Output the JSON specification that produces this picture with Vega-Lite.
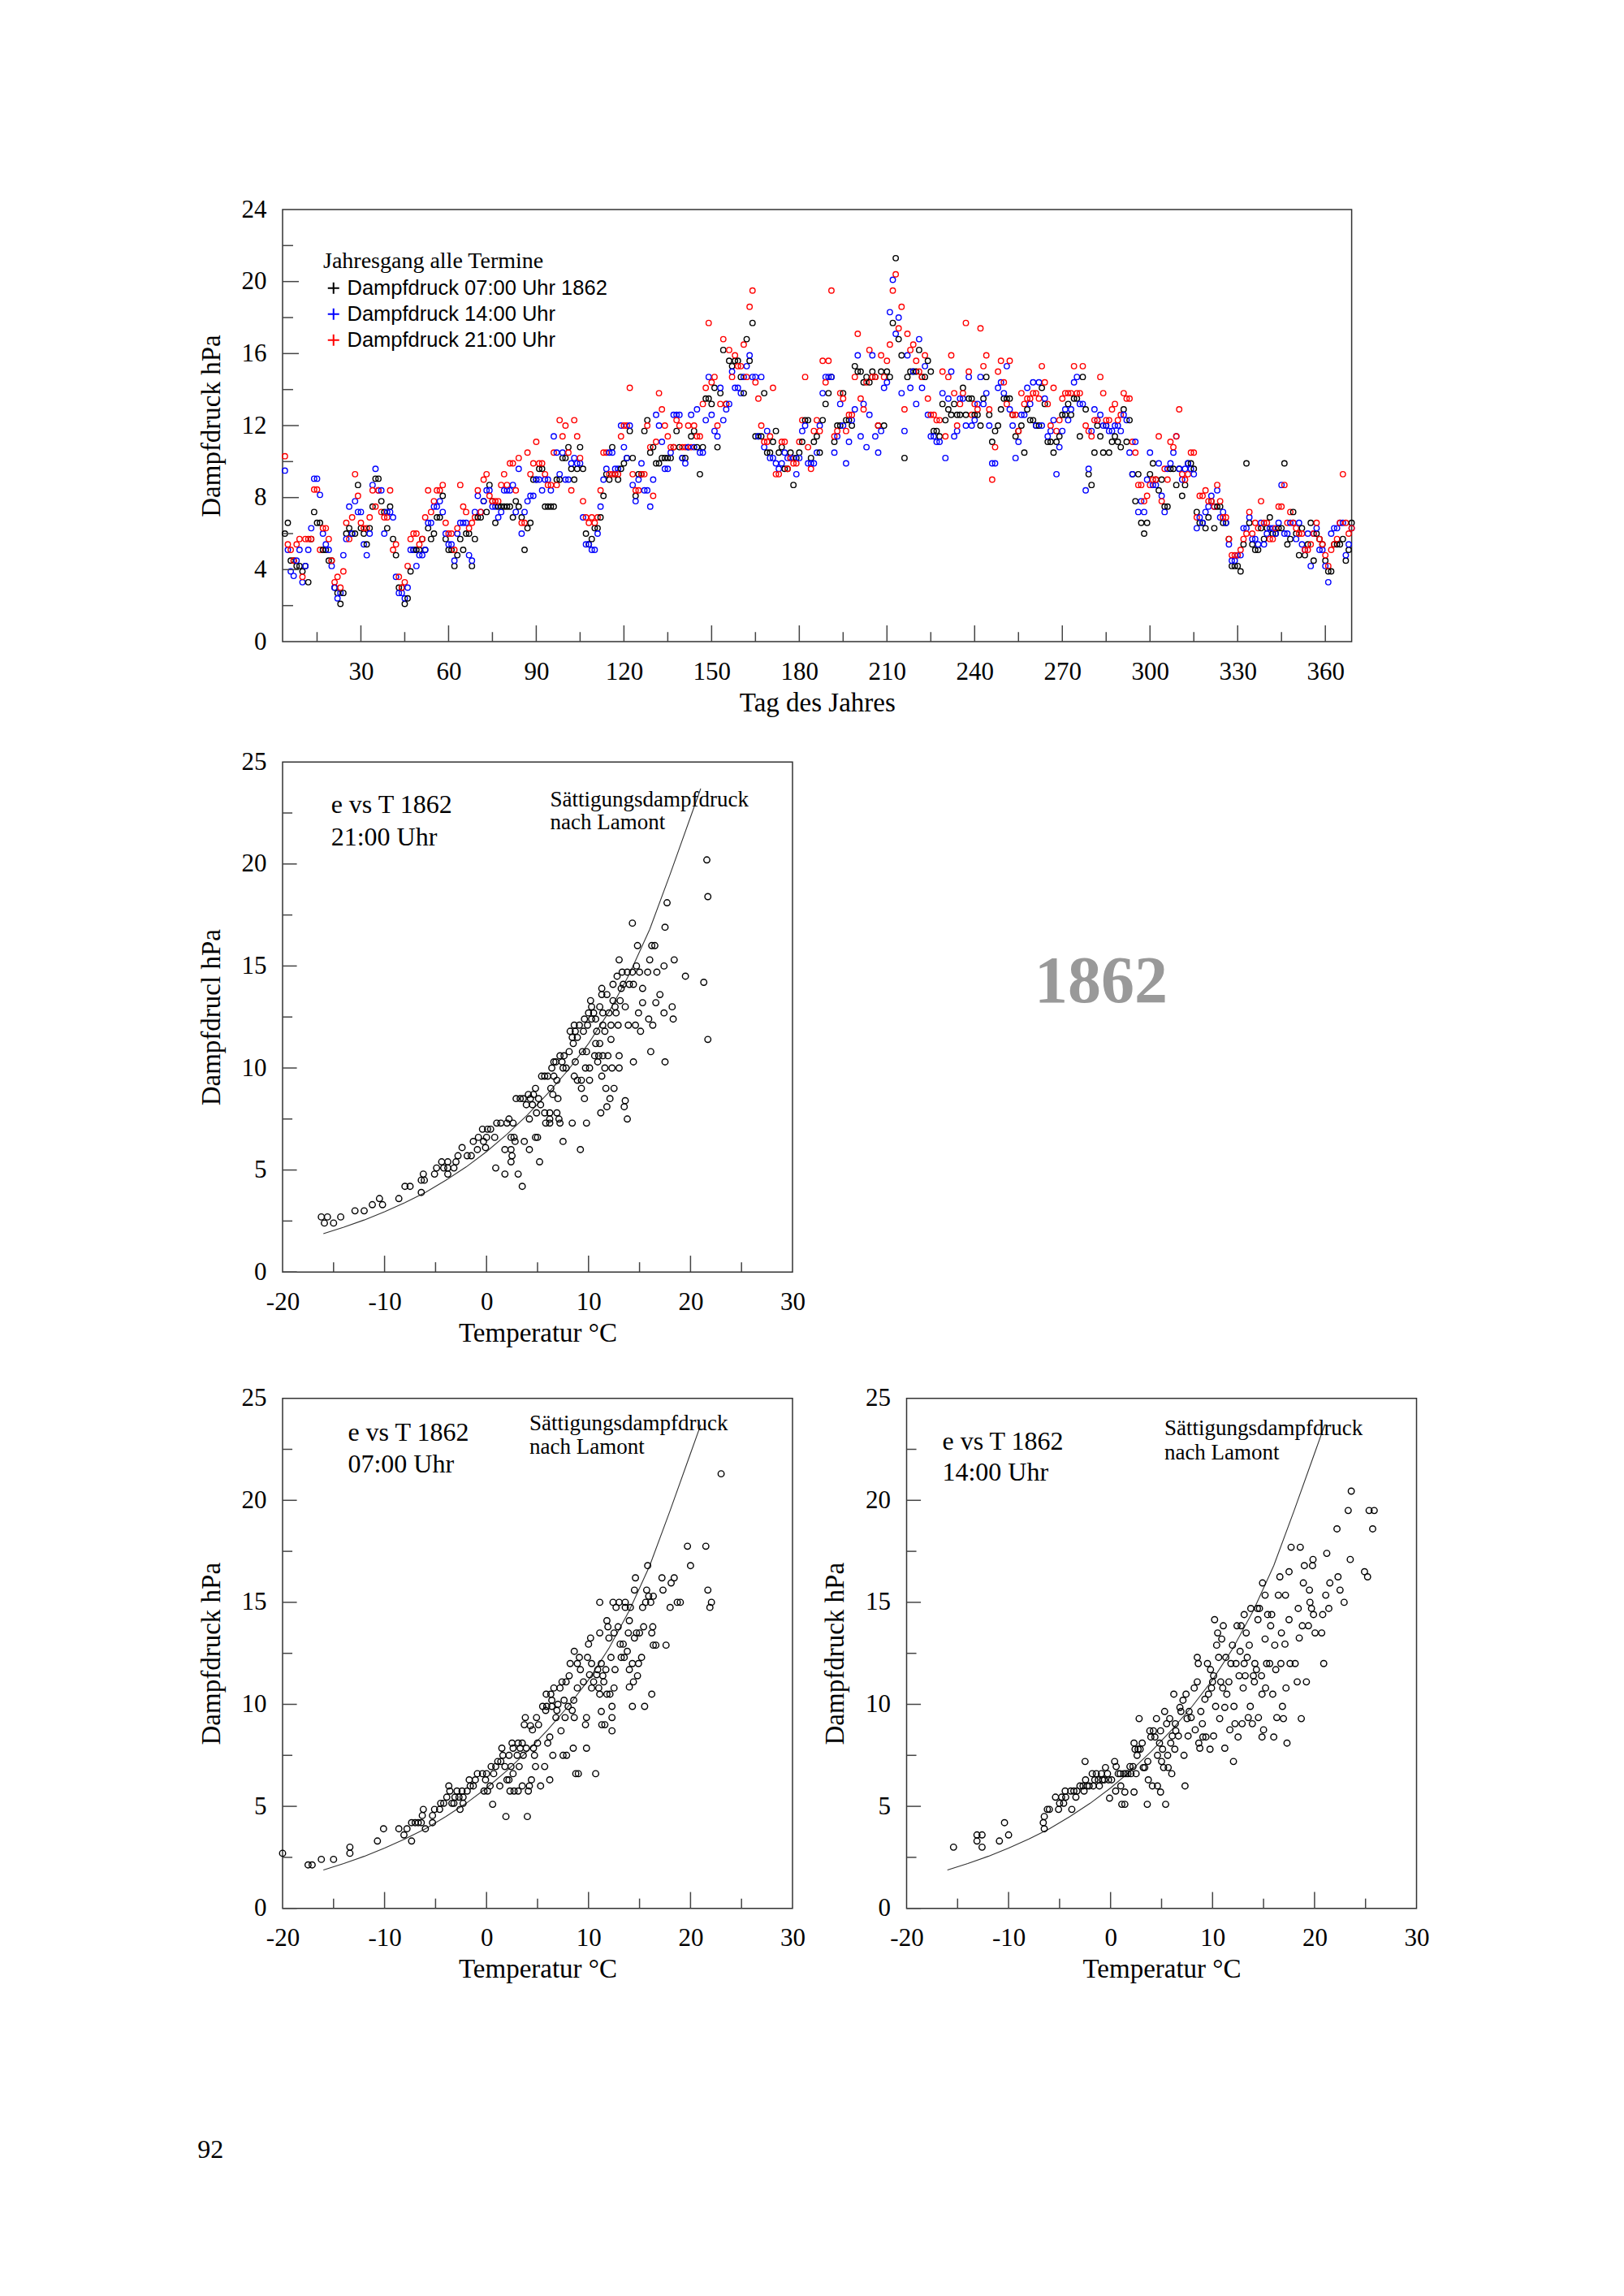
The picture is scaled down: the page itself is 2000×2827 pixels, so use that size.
{
  "$schema": "https://vega.github.io/schema/vega-lite/v6.json",
  "background": "white",
  "padding": {"left": 243, "top": 241, "right": 40, "bottom": 40},
  "config": {
    "view": {"stroke": "#333333", "strokeWidth": 1.5},
    "axis": {"ticks": false, "domain": false, "grid": false, "labelFont": "Liberation Serif", "labelFontSize": 31, "labelColor": "#000000", "labelFlush": false, "labelOverlap": false, "titleFont": "Liberation Serif", "titleFontSize": 33, "titleFontWeight": "normal", "titleColor": "#000000"},
    "axisX": {"labelPadding": 22, "titlePadding": 7},
    "axisY": {"labelPadding": 20, "titlePadding": 20},
    "text": {"font": "Liberation Serif", "color": "#000000"}
  },
  "title": {"text": "92", "orient": "bottom", "anchor": "start", "font": "Liberation Serif", "fontSize": 32, "fontWeight": "normal", "color": "#000000", "offset": 190},
  "datasets": {
    "ts": [
      {"d":4,"k":6.0,"b":9.5,"r":10.3},{"d":5,"k":6.6,"b":5.1,"r":5.4},{"d":6,"k":4.5,"b":3.9,"r":5.1},{"d":7,"k":4.5,"b":3.65,"r":4.5},{"d":8,"k":4.2,"b":4.5,"r":5.4},{"d":9,"k":4.2,"b":5.1,"r":5.7},{"d":10,"k":3.9,"b":3.3,"r":3.6},{"d":11,"k":4.2,"b":4.2,"r":5.7},{"d":12,"k":3.3,"b":5.1,"r":5.7},{"d":13,"k":5.7,"b":6.3,"r":5.7},
      {"d":14,"k":7.2,"b":9.05,"r":8.45},{"d":15,"k":6.6,"b":9.05,"r":8.45},{"d":16,"k":6.6,"b":8.15,"r":5.1},{"d":17,"k":5.1,"b":6.0,"r":6.3},{"d":18,"k":5.1,"b":5.4,"r":6.3},{"d":19,"k":4.5,"b":5.1,"r":5.7},{"d":20,"k":4.5,"b":4.2,"r":4.5},{"d":21,"k":3.0,"b":3.0,"r":3.3},{"d":22,"k":2.7,"b":2.4,"r":3.6},{"d":23,"k":2.1,"b":2.7,"r":3.0},
      {"d":24,"k":2.7,"b":4.8,"r":3.9},{"d":25,"k":6.0,"b":5.7,"r":6.6},{"d":26,"k":6.3,"b":7.5,"r":5.7},{"d":27,"k":6.0,"b":6.0,"r":6.9},{"d":28,"k":6.0,"b":7.8,"r":9.3},{"d":29,"k":8.7,"b":7.2,"r":8.1},{"d":30,"k":6.3,"b":7.2,"r":6.6},{"d":31,"k":6.0,"b":5.4,"r":6.3},{"d":32,"k":5.4,"b":4.8,"r":6.3},{"d":33,"k":6.3,"b":6.0,"r":6.9},
      {"d":34,"k":7.5,"b":8.7,"r":8.4},{"d":35,"k":9.05,"b":9.6,"r":7.5},{"d":36,"k":9.05,"b":8.4,"r":8.4},{"d":37,"k":7.8,"b":8.4,"r":7.2},{"d":38,"k":7.2,"b":6.0,"r":6.9},{"d":39,"k":6.3,"b":7.2,"r":6.9},{"d":40,"k":7.5,"b":7.2,"r":8.4},{"d":41,"k":5.7,"b":6.9,"r":5.1},{"d":42,"k":4.8,"b":3.6,"r":5.4},{"d":43,"k":3.0,"b":2.7,"r":3.6},
      {"d":44,"k":3.0,"b":2.7,"r":3.0},{"d":45,"k":2.1,"b":2.4,"r":3.3},{"d":46,"k":2.4,"b":3.0,"r":4.2},{"d":47,"k":3.9,"b":5.1,"r":5.7},{"d":48,"k":5.1,"b":5.1,"r":6.0},{"d":49,"k":5.1,"b":4.2,"r":6.0},{"d":50,"k":5.1,"b":4.8,"r":5.4},{"d":51,"k":5.7,"b":4.8,"r":5.7},{"d":52,"k":5.1,"b":5.1,"r":6.9},{"d":53,"k":6.3,"b":6.6,"r":8.4},
      {"d":54,"k":5.7,"b":6.6,"r":7.2},{"d":55,"k":6.0,"b":7.5,"r":7.8},{"d":56,"k":6.9,"b":7.5,"r":8.4},{"d":57,"k":6.9,"b":7.8,"r":8.4},{"d":58,"k":8.1,"b":7.2,"r":8.7},{"d":59,"k":5.7,"b":6.0,"r":6.6},{"d":60,"k":5.1,"b":5.4,"r":6.0},{"d":61,"k":5.1,"b":5.4,"r":6.0},{"d":62,"k":4.2,"b":4.5,"r":5.1},{"d":63,"k":4.8,"b":6.0,"r":6.3},
      {"d":64,"k":5.7,"b":6.6,"r":8.7},{"d":65,"k":5.1,"b":6.6,"r":7.5},{"d":66,"k":6.0,"b":6.6,"r":7.2},{"d":67,"k":6.0,"b":4.8,"r":6.3},{"d":68,"k":4.2,"b":4.5,"r":6.6},{"d":69,"k":5.7,"b":7.2,"r":6.9},{"d":70,"k":6.9,"b":8.1,"r":8.4},{"d":71,"k":6.9,"b":7.2,"r":7.2},{"d":72,"k":7.8,"b":7.8,"r":9.0},{"d":73,"k":7.2,"b":8.4,"r":9.3},
      {"d":74,"k":8.7,"b":8.4,"r":8.1},{"d":75,"k":7.8,"b":7.5,"r":7.8},{"d":76,"k":6.6,"b":7.5,"r":7.8},{"d":77,"k":7.5,"b":6.9,"r":7.8},{"d":78,"k":7.5,"b":7.2,"r":8.7},{"d":79,"k":7.5,"b":8.4,"r":9.3},{"d":80,"k":7.5,"b":8.4,"r":8.7},{"d":81,"k":7.5,"b":8.4,"r":9.9},{"d":82,"k":6.9,"b":8.7,"r":9.9},{"d":83,"k":7.8,"b":7.2,"r":8.4},
      {"d":84,"k":7.5,"b":9.6,"r":10.2},{"d":85,"k":6.9,"b":6.0,"r":6.6},{"d":86,"k":5.1,"b":7.2,"r":6.6},{"d":87,"k":6.3,"b":7.8,"r":10.5},{"d":88,"k":6.6,"b":8.1,"r":9.3},{"d":89,"k":9.0,"b":8.1,"r":9.9},{"d":90,"k":9.0,"b":9.0,"r":11.1},{"d":91,"k":9.6,"b":9.0,"r":9.9},{"d":92,"k":9.6,"b":8.4,"r":9.9},{"d":93,"k":7.5,"b":9.0,"r":9.3},
      {"d":94,"k":7.5,"b":9.0,"r":8.7},{"d":95,"k":7.5,"b":8.4,"r":8.7},{"d":96,"k":7.5,"b":11.4,"r":10.5},{"d":97,"k":9.0,"b":10.5,"r":8.7},{"d":98,"k":9.0,"b":9.3,"r":12.3},{"d":99,"k":10.2,"b":10.5,"r":11.4},{"d":100,"k":10.2,"b":9.0,"r":12.0},{"d":101,"k":10.8,"b":9.0,"r":10.5},{"d":102,"k":9.6,"b":9.9,"r":8.4},{"d":103,"k":9.0,"b":10.2,"r":12.3},
      {"d":104,"k":9.6,"b":9.9,"r":11.4},{"d":105,"k":10.8,"b":9.9,"r":10.2},{"d":106,"k":9.6,"b":6.9,"r":7.8},{"d":107,"k":6.0,"b":5.4,"r":6.9},{"d":108,"k":5.4,"b":5.4,"r":6.6},{"d":109,"k":5.7,"b":5.1,"r":6.9},{"d":110,"k":6.3,"b":5.1,"r":6.6},{"d":111,"k":6.3,"b":6.0,"r":6.9},{"d":112,"k":6.9,"b":7.5,"r":8.4},{"d":113,"k":8.1,"b":9.0,"r":10.5},
      {"d":114,"k":9.3,"b":9.6,"r":10.5},{"d":115,"k":9.0,"b":10.5,"r":9.3},{"d":116,"k":10.8,"b":10.5,"r":9.3},{"d":117,"k":9.3,"b":9.6,"r":9.3},{"d":118,"k":9.0,"b":9.6,"r":9.3},{"d":119,"k":9.6,"b":12.0,"r":11.4},{"d":120,"k":9.9,"b":10.8,"r":12.0},{"d":121,"k":10.2,"b":10.2,"r":12.0},{"d":122,"k":11.7,"b":12.0,"r":14.1},{"d":123,"k":10.2,"b":8.7,"r":9.3},
      {"d":124,"k":8.1,"b":7.8,"r":8.4},{"d":125,"k":9.3,"b":9.0,"r":8.4},{"d":126,"k":9.3,"b":9.9,"r":9.3},{"d":127,"k":11.7,"b":8.4,"r":9.3},{"d":128,"k":12.3,"b":8.4,"r":12.0},{"d":129,"k":10.5,"b":7.5,"r":10.8},{"d":130,"k":10.8,"b":9.0,"r":8.1},{"d":131,"k":9.9,"b":12.6,"r":11.1},{"d":132,"k":9.9,"b":12.0,"r":13.8},{"d":133,"k":10.2,"b":11.1,"r":12.9},
      {"d":134,"k":10.2,"b":9.6,"r":12.0},{"d":135,"k":10.2,"b":9.6,"r":11.4},{"d":136,"k":10.2,"b":10.5,"r":10.8},{"d":137,"k":10.8,"b":12.6,"r":10.8},{"d":138,"k":11.7,"b":12.6,"r":12.3},{"d":139,"k":10.8,"b":12.6,"r":12.0},{"d":140,"k":10.2,"b":10.2,"r":10.8},{"d":141,"k":10.2,"b":9.9,"r":10.8},{"d":142,"k":10.8,"b":10.8,"r":12.0},{"d":143,"k":11.4,"b":12.6,"r":10.8},
      {"d":144,"k":11.7,"b":10.8,"r":12.0},{"d":145,"k":10.8,"b":12.9,"r":11.4},{"d":146,"k":9.3,"b":10.5,"r":11.4},{"d":147,"k":10.8,"b":10.5,"r":13.2},{"d":148,"k":13.5,"b":12.3,"r":14.1},{"d":149,"k":13.5,"b":14.7,"r":17.7},{"d":150,"k":13.2,"b":12.6,"r":14.4},{"d":151,"k":14.1,"b":11.7,"r":14.7},{"d":152,"k":10.8,"b":11.4,"r":12.0},{"d":153,"k":13.8,"b":14.1,"r":13.2},
      {"d":154,"k":16.2,"b":12.3,"r":16.8},{"d":155,"k":13.2,"b":12.9,"r":13.2},{"d":156,"k":15.6,"b":13.2,"r":16.2},{"d":157,"k":15.3,"b":15.0,"r":14.7},{"d":158,"k":15.6,"b":14.1,"r":15.9},{"d":159,"k":15.6,"b":14.1,"r":15.3},{"d":160,"k":14.7,"b":13.8,"r":15.3},{"d":161,"k":13.8,"b":14.7,"r":16.5},{"d":162,"k":16.8,"b":15.3,"r":14.7},{"d":163,"k":15.6,"b":15.9,"r":18.6},
      {"d":164,"k":17.7,"b":14.7,"r":19.5},{"d":165,"k":11.4,"b":14.7,"r":14.4},{"d":166,"k":11.4,"b":11.4,"r":13.5},{"d":167,"k":11.4,"b":14.7,"r":12.0},{"d":168,"k":13.8,"b":10.8,"r":11.1},{"d":169,"k":10.5,"b":11.7,"r":11.1},{"d":170,"k":10.5,"b":10.2,"r":11.4},{"d":171,"k":11.1,"b":10.2,"r":14.1},{"d":172,"k":11.7,"b":9.9,"r":9.3},{"d":173,"k":10.5,"b":9.6,"r":9.3},
      {"d":174,"k":10.8,"b":9.9,"r":11.1},{"d":175,"k":9.6,"b":10.5,"r":11.1},{"d":176,"k":9.6,"b":10.2,"r":9.6},{"d":177,"k":10.5,"b":10.2,"r":10.2},{"d":178,"k":8.7,"b":10.2,"r":9.9},{"d":179,"k":10.2,"b":9.3,"r":9.9},{"d":180,"k":10.5,"b":10.2,"r":11.1},{"d":181,"k":11.1,"b":11.7,"r":12.3},{"d":182,"k":12.3,"b":12.0,"r":14.7},{"d":183,"k":12.3,"b":9.9,"r":10.8},
      {"d":184,"k":10.2,"b":9.9,"r":9.6},{"d":185,"k":11.1,"b":9.9,"r":11.7},{"d":186,"k":11.4,"b":10.5,"r":12.3},{"d":187,"k":10.5,"b":12.0,"r":11.7},{"d":188,"k":12.3,"b":13.8,"r":15.6},{"d":189,"k":13.2,"b":14.7,"r":14.4},{"d":190,"k":13.8,"b":14.7,"r":15.6},{"d":191,"k":14.7,"b":14.7,"r":19.5},{"d":192,"k":11.1,"b":10.5,"r":11.4},{"d":193,"k":12.0,"b":11.4,"r":11.7},
      {"d":194,"k":12.0,"b":13.2,"r":13.8},{"d":195,"k":13.8,"b":12.0,"r":13.5},{"d":196,"k":12.3,"b":9.9,"r":11.7},{"d":197,"k":12.3,"b":11.1,"r":12.6},{"d":198,"k":12.0,"b":12.3,"r":12.6},{"d":199,"k":15.3,"b":12.9,"r":14.7},{"d":200,"k":15.0,"b":15.9,"r":17.1},{"d":201,"k":15.0,"b":11.4,"r":13.5},{"d":202,"k":14.4,"b":13.2,"r":12.9},{"d":203,"k":14.7,"b":10.8,"r":14.4},
      {"d":204,"k":14.4,"b":12.6,"r":16.2},{"d":205,"k":15.0,"b":15.9,"r":14.7},{"d":206,"k":14.7,"b":11.4,"r":14.7},{"d":207,"k":12.0,"b":10.5,"r":12.0},{"d":208,"k":15.0,"b":11.7,"r":15.9},{"d":209,"k":12.0,"b":14.1,"r":14.7},{"d":210,"k":15.0,"b":14.4,"r":15.6},{"d":211,"k":14.7,"b":18.3,"r":16.5},{"d":212,"k":17.7,"b":20.1,"r":19.5},{"d":213,"k":21.3,"b":17.1,"r":20.4},
      {"d":214,"k":16.8,"b":18.0,"r":17.4},{"d":215,"k":15.9,"b":13.8,"r":18.6},{"d":216,"k":10.2,"b":11.7,"r":12.9},{"d":217,"k":14.7,"b":15.9,"r":17.1},{"d":218,"k":15.0,"b":14.1,"r":16.2},{"d":219,"k":15.0,"b":15.0,"r":16.5},{"d":220,"k":15.0,"b":13.2,"r":15.6},{"d":221,"k":16.2,"b":16.8,"r":15.0},{"d":222,"k":14.7,"b":14.1,"r":14.7},{"d":223,"k":14.7,"b":15.3,"r":15.9},
      {"d":224,"k":15.6,"b":12.6,"r":13.5},{"d":225,"k":15.0,"b":11.4,"r":12.6},{"d":226,"k":11.7,"b":11.4,"r":12.6},{"d":227,"k":11.7,"b":11.1,"r":12.3},{"d":228,"k":11.4,"b":11.1,"r":12.3},{"d":229,"k":13.2,"b":13.8,"r":15.0},{"d":230,"k":12.3,"b":10.2,"r":11.4},{"d":231,"k":12.9,"b":13.5,"r":14.7},{"d":232,"k":12.6,"b":15.0,"r":15.9},{"d":233,"k":13.2,"b":11.4,"r":13.8},
      {"d":234,"k":12.6,"b":11.7,"r":12.0},{"d":235,"k":12.6,"b":13.5,"r":13.2},{"d":236,"k":14.1,"b":13.5,"r":13.8},{"d":237,"k":12.6,"b":12.0,"r":17.7},{"d":238,"k":13.5,"b":14.7,"r":15.0},{"d":239,"k":13.5,"b":12.0,"r":12.6},{"d":240,"k":12.6,"b":12.3,"r":13.2},{"d":241,"k":12.6,"b":13.2,"r":12.9},{"d":242,"k":12.0,"b":14.7,"r":17.4},{"d":243,"k":13.5,"b":13.2,"r":15.3},
      {"d":244,"k":14.7,"b":13.8,"r":15.9},{"d":245,"k":12.6,"b":12.0,"r":12.9},{"d":246,"k":11.1,"b":9.9,"r":9.0},{"d":247,"k":11.7,"b":9.9,"r":10.8},{"d":248,"k":12.0,"b":14.1,"r":15.0},{"d":249,"k":12.9,"b":14.4,"r":15.6},{"d":250,"k":13.5,"b":13.8,"r":14.4},{"d":251,"k":13.5,"b":15.3,"r":13.2},{"d":252,"k":13.5,"b":12.9,"r":15.6},{"d":253,"k":12.6,"b":12.0,"r":12.6},
      {"d":254,"k":11.4,"b":10.2,"r":12.6},{"d":255,"k":11.7,"b":11.1,"r":11.7},{"d":256,"k":12.0,"b":12.6,"r":13.8},{"d":257,"k":10.5,"b":12.6,"r":13.2},{"d":258,"k":12.9,"b":14.1,"r":13.5},{"d":259,"k":12.3,"b":13.2,"r":13.5},{"d":260,"k":12.3,"b":14.4,"r":13.8},{"d":261,"k":12.0,"b":12.0,"r":13.8},{"d":262,"k":12.0,"b":14.4,"r":13.5},{"d":263,"k":14.1,"b":12.0,"r":15.3},
      {"d":264,"k":13.2,"b":13.5,"r":14.4},{"d":265,"k":11.1,"b":11.4,"r":13.2},{"d":266,"k":11.1,"b":11.7,"r":12.0},{"d":267,"k":10.5,"b":12.3,"r":14.1},{"d":268,"k":11.1,"b":9.3,"r":11.7},{"d":269,"k":11.4,"b":10.8,"r":12.3},{"d":270,"k":12.6,"b":11.7,"r":13.5},{"d":271,"k":12.6,"b":12.9,"r":13.8},{"d":272,"k":13.2,"b":12.3,"r":13.8},{"d":273,"k":12.6,"b":12.9,"r":13.8},
      {"d":274,"k":13.5,"b":14.4,"r":15.3},{"d":275,"k":13.5,"b":14.7,"r":13.8},{"d":276,"k":11.4,"b":13.2,"r":13.8},{"d":277,"k":14.7,"b":13.2,"r":15.3},{"d":278,"k":12.9,"b":8.4,"r":12.0},{"d":279,"k":9.3,"b":9.6,"r":11.7},{"d":280,"k":8.7,"b":11.7,"r":11.4},{"d":281,"k":10.5,"b":12.9,"r":12.3},{"d":282,"k":12.0,"b":12.3,"r":12.3},{"d":283,"k":11.4,"b":12.6,"r":14.7},
      {"d":284,"k":10.5,"b":12.0,"r":13.8},{"d":285,"k":12.0,"b":12.0,"r":12.3},{"d":286,"k":10.5,"b":11.7,"r":12.3},{"d":287,"k":11.1,"b":11.7,"r":12.9},{"d":288,"k":11.4,"b":12.0,"r":13.2},{"d":289,"k":11.1,"b":12.0,"r":12.3},{"d":290,"k":10.8,"b":11.7,"r":12.6},{"d":291,"k":12.9,"b":12.6,"r":13.8},{"d":292,"k":11.1,"b":12.3,"r":13.5},{"d":293,"k":12.3,"b":10.5,"r":13.5},
      {"d":294,"k":9.3,"b":9.3,"r":11.1},{"d":295,"k":7.8,"b":11.1,"r":10.5},{"d":296,"k":9.3,"b":7.2,"r":8.7},{"d":297,"k":6.6,"b":7.8,"r":8.7},{"d":298,"k":6.0,"b":7.2,"r":7.8},{"d":299,"k":6.6,"b":9.0,"r":8.1},{"d":300,"k":9.3,"b":10.5,"r":8.7},{"d":301,"k":9.9,"b":8.7,"r":9.0},{"d":302,"k":9.0,"b":8.7,"r":9.0},{"d":303,"k":8.4,"b":9.9,"r":11.4},
      {"d":304,"k":9.0,"b":8.1,"r":7.8},{"d":305,"k":7.5,"b":7.2,"r":9.6},{"d":306,"k":7.5,"b":9.6,"r":9.0},{"d":307,"k":9.6,"b":9.9,"r":11.1},{"d":308,"k":9.6,"b":10.5,"r":10.8},{"d":309,"k":8.7,"b":11.4,"r":11.4},{"d":310,"k":9.6,"b":9.6,"r":12.9},{"d":311,"k":8.1,"b":9.0,"r":9.3},{"d":312,"k":8.7,"b":9.6,"r":9.0},{"d":313,"k":9.9,"b":9.9,"r":9.3},
      {"d":314,"k":9.9,"b":9.6,"r":10.5},{"d":315,"k":9.6,"b":9.3,"r":10.5},{"d":316,"k":7.2,"b":6.3,"r":6.9},{"d":317,"k":6.6,"b":6.9,"r":8.1},{"d":318,"k":6.6,"b":6.6,"r":8.1},{"d":319,"k":6.3,"b":7.2,"r":8.4},{"d":320,"k":6.9,"b":7.5,"r":7.8},{"d":321,"k":7.8,"b":8.1,"r":7.8},{"d":322,"k":6.3,"b":7.5,"r":7.5},{"d":323,"k":7.5,"b":8.4,"r":8.7},
      {"d":324,"k":7.5,"b":6.9,"r":7.8},{"d":325,"k":6.6,"b":7.2,"r":6.9},{"d":326,"k":6.6,"b":6.6,"r":6.9},{"d":327,"k":5.7,"b":5.4,"r":5.7},{"d":328,"k":4.2,"b":4.5,"r":4.8},{"d":329,"k":4.2,"b":4.5,"r":4.8},{"d":330,"k":4.2,"b":4.8,"r":4.8},{"d":331,"k":3.9,"b":4.8,"r":5.1},{"d":332,"k":5.4,"b":6.3,"r":5.7},{"d":333,"k":9.9,"b":6.3,"r":6.0},
      {"d":334,"k":6.6,"b":6.9,"r":7.2},{"d":335,"k":5.4,"b":5.7,"r":6.0},{"d":336,"k":5.1,"b":5.7,"r":6.6},{"d":337,"k":5.1,"b":5.4,"r":6.3},{"d":338,"k":6.3,"b":6.6,"r":7.8},{"d":339,"k":5.7,"b":5.4,"r":6.6},{"d":340,"k":6.3,"b":6.0,"r":6.6},{"d":341,"k":6.9,"b":6.3,"r":5.7},{"d":342,"k":6.0,"b":6.3,"r":5.7},{"d":343,"k":6.0,"b":6.0,"r":6.3},
      {"d":344,"k":6.3,"b":6.6,"r":7.5},{"d":345,"k":6.3,"b":8.7,"r":7.5},{"d":346,"k":9.9,"b":6.0,"r":8.7},{"d":347,"k":5.4,"b":6.0,"r":6.6},{"d":348,"k":5.7,"b":6.6,"r":7.2},{"d":349,"k":7.2,"b":6.6,"r":6.6},{"d":350,"k":6.0,"b":5.7,"r":6.3},{"d":351,"k":4.8,"b":6.6,"r":6.0},{"d":352,"k":6.3,"b":5.4,"r":6.0},{"d":353,"k":4.8,"b":5.1,"r":5.1},
      {"d":354,"k":5.4,"b":6.0,"r":5.1},{"d":355,"k":6.6,"b":4.2,"r":5.4},{"d":356,"k":4.5,"b":6.0,"r":6.0},{"d":357,"k":6.0,"b":6.3,"r":6.6},{"d":358,"k":5.7,"b":5.1,"r":5.7},{"d":359,"k":5.4,"b":5.1,"r":5.4},{"d":360,"k":4.5,"b":4.2,"r":4.8},{"d":361,"k":3.9,"b":3.3,"r":4.2},{"d":362,"k":3.9,"b":6.0,"r":5.1},{"d":363,"k":5.4,"b":6.3,"r":5.4},
      {"d":364,"k":5.4,"b":6.3,"r":5.7},{"d":365,"k":5.4,"b":6.6,"r":6.6},{"d":366,"k":5.7,"b":6.6,"r":9.3},{"d":367,"k":4.5,"b":4.8,"r":6.6},{"d":368,"k":5.1,"b":5.4,"r":6.0},{"d":369,"k":6.6,"b":6.3,"r":6.3}
    ],
    "lam": [
      {"t":-16,"e":1.88},{"t":-14,"e":2.2},{"t":-12,"e":2.55},{"t":-10,"e":2.95},{"t":-8,"e":3.4},{"t":-6,"e":3.9},{"t":-4,"e":4.5},{"t":-2,"e":5.15},{"t":0,"e":5.9},{"t":2,"e":6.75},
      {"t":4,"e":7.7},{"t":6,"e":8.75},{"t":8,"e":9.9},{"t":10,"e":11.2},{"t":12,"e":12.75},{"t":14,"e":14.6},{"t":16,"e":16.8},{"t":18,"e":19.5},{"t":20,"e":22.3},{"t":21,"e":23.7}
    ],
    "e21": [
      {"t":-16.2,"e":2.7},{"t":-15.9,"e":2.4},{"t":-15.6,"e":2.7},{"t":-15,"e":2.4},{"t":-14.3,"e":2.7},{"t":-12.9,"e":3.0},{"t":-12,"e":3.0},{"t":-11.2,"e":3.3},{"t":-10.5,"e":3.6},{"t":-10.2,"e":3.3},
      {"t":-8.6,"e":3.6},{"t":-8.0,"e":4.2},{"t":-7.5,"e":4.2},{"t":-6.4,"e":3.9},{"t":-6.4,"e":4.5},{"t":-6.1,"e":4.5},{"t":-6.2,"e":4.8},{"t":-5.1,"e":4.8},{"t":-4.9,"e":5.1},{"t":-4.4,"e":5.4},
      {"t":-4.2,"e":5.1},{"t":-3.8,"e":5.1},{"t":-3.8,"e":4.8},{"t":-3.8,"e":5.4},{"t":-3.2,"e":5.1},{"t":-3.0,"e":5.4},{"t":-2.8,"e":5.7},{"t":-2.4,"e":6.1},{"t":-1.9,"e":5.7},{"t":-1.5,"e":5.7},
      {"t":-1.3,"e":6.4},{"t":-0.9,"e":6.0},{"t":-0.8,"e":6.6},{"t":-0.4,"e":7.0},{"t":-0.3,"e":6.4},{"t":-0.1,"e":6.1},{"t":0,"e":6.6},{"t":0.1,"e":7.0},{"t":0.4,"e":7.0},{"t":0.8,"e":6.6},
      {"t":0.9,"e":5.1},{"t":1.0,"e":7.3},{"t":1.4,"e":7.3},{"t":1.8,"e":4.8},{"t":1.8,"e":6.0},{"t":2.0,"e":7.3},{"t":2.2,"e":7.5},{"t":2.4,"e":6.0},{"t":2.4,"e":6.6},{"t":2.4,"e":5.4},
      {"t":2.5,"e":5.7},{"t":2.6,"e":7.3},{"t":2.7,"e":6.6},{"t":2.8,"e":6.4},{"t":2.9,"e":8.5},{"t":3.1,"e":4.8},{"t":3.3,"e":8.5},{"t":3.5,"e":4.2},{"t":3.6,"e":8.5},{"t":3.7,"e":6.4},
      {"t":3.9,"e":8.2},{"t":4.1,"e":8.7},{"t":4.2,"e":7.5},{"t":4.2,"e":6.0},{"t":4.3,"e":8.5},{"t":4.5,"e":8.2},{"t":4.6,"e":8.7},{"t":4.8,"e":6.6},{"t":4.8,"e":9.0},{"t":5.0,"e":6.6},
      {"t":4.9,"e":7.8},{"t":5.1,"e":8.5},{"t":5.2,"e":5.4},{"t":5.3,"e":8.2},{"t":5.4,"e":9.6},{"t":5.7,"e":9.6},{"t":5.7,"e":7.8},{"t":5.8,"e":7.3},{"t":6.0,"e":9.6},{"t":6.2,"e":7.8},
      {"t":6.2,"e":7.5},{"t":6.2,"e":7.3},{"t":6.3,"e":9.0},{"t":6.4,"e":10.0},{"t":6.5,"e":8.7},{"t":6.6,"e":9.6},{"t":6.6,"e":10.3},{"t":6.8,"e":10.3},{"t":6.9,"e":7.8},{"t":6.9,"e":9.4},
      {"t":7.0,"e":8.5},{"t":7.1,"e":7.5},{"t":7.2,"e":10.6},{"t":7.2,"e":7.3},{"t":7.4,"e":10.3},{"t":7.5,"e":10.0},{"t":7.5,"e":6.4},{"t":7.6,"e":10.6},{"t":7.8,"e":10.0},{"t":8.1,"e":10.8},
      {"t":8.2,"e":11.8},{"t":8.4,"e":11.5},{"t":8.4,"e":7.3},{"t":8.5,"e":11.2},{"t":8.6,"e":9.6},{"t":8.6,"e":12.1},{"t":8.7,"e":11.8},{"t":8.7,"e":10.3},{"t":8.9,"e":11.5},{"t":8.9,"e":9.4},
      {"t":9.1,"e":12.1},{"t":9.2,"e":6.0},{"t":9.3,"e":9.4},{"t":9.3,"e":9.0},{"t":9.4,"e":10.8},{"t":9.5,"e":11.8},{"t":9.6,"e":12.4},{"t":9.6,"e":8.5},{"t":9.7,"e":10.0},{"t":9.8,"e":10.8},
      {"t":9.8,"e":7.3},{"t":9.9,"e":12.1},{"t":10.0,"e":12.7},{"t":10.1,"e":10.0},{"t":10.1,"e":9.4},{"t":10.2,"e":13.3},{"t":10.3,"e":12.4},{"t":10.3,"e":13.0},{"t":10.5,"e":12.7},{"t":10.6,"e":10.6},
      {"t":10.7,"e":12.4},{"t":10.7,"e":11.2},{"t":10.8,"e":11.8},{"t":10.9,"e":10.3},{"t":11.0,"e":10.6},{"t":11.1,"e":11.2},{"t":11.1,"e":13.0},{"t":11.2,"e":7.8},{"t":11.3,"e":13.9},{"t":11.3,"e":9.6},
      {"t":11.3,"e":13.6},{"t":11.4,"e":12.7},{"t":11.4,"e":12.1},{"t":11.4,"e":10.6},{"t":11.6,"e":11.8},{"t":11.6,"e":10.0},{"t":11.7,"e":9.0},{"t":11.8,"e":13.6},{"t":11.8,"e":8.1},{"t":11.9,"e":10.6},
      {"t":12.0,"e":12.7},{"t":12.1,"e":8.5},{"t":12.2,"e":12.1},{"t":12.2,"e":11.4},{"t":12.3,"e":10.0},{"t":12.4,"e":13.3},{"t":12.4,"e":14.1},{"t":12.5,"e":9.0},{"t":12.6,"e":13.0},{"t":12.7,"e":12.7},
      {"t":12.8,"e":14.5},{"t":12.9,"e":12.1},{"t":13.0,"e":15.3},{"t":13.0,"e":10.6},{"t":13.0,"e":10.0},{"t":13.1,"e":13.3},{"t":13.2,"e":13.9},{"t":13.3,"e":14.7},{"t":13.4,"e":14.1},{"t":13.5,"e":8.1},
      {"t":13.6,"e":13.0},{"t":13.6,"e":8.4},{"t":13.8,"e":7.5},{"t":13.8,"e":14.7},{"t":13.9,"e":12.1},{"t":14.0,"e":14.1},{"t":14.3,"e":14.7},{"t":14.3,"e":17.1},{"t":14.4,"e":14.1},{"t":14.4,"e":10.3},
      {"t":14.6,"e":12.1},{"t":14.7,"e":15.0},{"t":14.8,"e":16.0},{"t":14.9,"e":12.7},{"t":15.0,"e":14.7},{"t":15.1,"e":11.8},{"t":15.3,"e":13.9},{"t":15.3,"e":13.2},{"t":15.8,"e":14.7},{"t":15.9,"e":12.4},
      {"t":16.0,"e":15.3},{"t":16.1,"e":10.8},{"t":16.2,"e":16.0},{"t":16.3,"e":12.1},{"t":16.5,"e":16.0},{"t":16.6,"e":13.2},{"t":16.7,"e":14.7},{"t":17.0,"e":13.6},{"t":17.4,"e":12.7},{"t":17.4,"e":15.0},
      {"t":17.5,"e":10.3},{"t":17.5,"e":16.9},{"t":17.7,"e":18.1},{"t":18.2,"e":13.0},{"t":18.3,"e":12.4},{"t":18.4,"e":15.3},{"t":19.5,"e":14.5},{"t":21.3,"e":14.2},{"t":21.6,"e":20.2},{"t":21.7,"e":18.4},
      {"t":21.7,"e":11.4}
    ],
    "e07": [
      {"t":-20,"e":2.7},{"t":-17.5,"e":2.13},{"t":-17.1,"e":2.13},{"t":-16.2,"e":2.4},{"t":-15,"e":2.4},{"t":-13.4,"e":3.0},{"t":-13.4,"e":2.7},{"t":-10.7,"e":3.3},{"t":-10.1,"e":3.9},{"t":-8.6,"e":3.9},
      {"t":-8.1,"e":3.6},{"t":-7.8,"e":3.9},{"t":-7.35,"e":3.3},{"t":-7.35,"e":4.2},{"t":-7.0,"e":4.2},{"t":-6.7,"e":4.2},{"t":-6.4,"e":4.2},{"t":-6.3,"e":4.55},{"t":-6.2,"e":4.85},{"t":-6.0,"e":3.9},
      {"t":-5.3,"e":4.2},{"t":-5.3,"e":4.55},{"t":-5.1,"e":4.85},{"t":-4.6,"e":4.85},{"t":-4.5,"e":5.15},{"t":-4.2,"e":5.15},{"t":-3.9,"e":5.45},{"t":-3.7,"e":6.0},{"t":-3.6,"e":5.75},{"t":-3.4,"e":5.15},
      {"t":-3.2,"e":5.15},{"t":-3.1,"e":5.45},{"t":-2.9,"e":5.75},{"t":-2.7,"e":5.45},{"t":-2.6,"e":4.85},{"t":-2.4,"e":5.75},{"t":-2.3,"e":5.15},{"t":-2.3,"e":5.45},{"t":-1.9,"e":5.75},{"t":-1.7,"e":6.3},
      {"t":-1.6,"e":6.0},{"t":-1.3,"e":6.0},{"t":-1.1,"e":6.3},{"t":-0.9,"e":6.6},{"t":-0.4,"e":6.6},{"t":-0.25,"e":5.75},{"t":-0.1,"e":6.3},{"t":0,"e":6.6},{"t":0.1,"e":5.75},{"t":0.35,"e":6.0},
      {"t":0.45,"e":6.95},{"t":0.6,"e":5.1},{"t":0.7,"e":6.6},{"t":0.9,"e":6.95},{"t":1.1,"e":7.2},{"t":1.3,"e":6.0},{"t":1.4,"e":7.2},{"t":1.5,"e":7.85},{"t":1.6,"e":7.5},{"t":1.8,"e":6.95},
      {"t":1.9,"e":4.5},{"t":2.0,"e":6.3},{"t":2.2,"e":7.5},{"t":2.2,"e":6.3},{"t":2.3,"e":5.75},{"t":2.4,"e":6.95},{"t":2.5,"e":8.1},{"t":2.6,"e":7.85},{"t":2.6,"e":6.6},{"t":2.7,"e":5.75},
      {"t":3.0,"e":7.5},{"t":3.1,"e":8.1},{"t":3.1,"e":5.75},{"t":3.2,"e":6.95},{"t":3.3,"e":7.85},{"t":3.5,"e":8.1},{"t":3.5,"e":6.0},{"t":3.6,"e":7.5},{"t":3.7,"e":9.0},{"t":3.8,"e":9.35},
      {"t":3.9,"e":7.85},{"t":4.0,"e":4.5},{"t":4.1,"e":5.75},{"t":4.2,"e":6.0},{"t":4.3,"e":8.95},{"t":4.4,"e":6.3},{"t":4.5,"e":8.75},{"t":4.6,"e":7.85},{"t":4.7,"e":7.5},{"t":4.8,"e":6.95},
      {"t":4.9,"e":9.35},{"t":5.0,"e":8.1},{"t":5.1,"e":9.0},{"t":5.3,"e":6.0},{"t":5.5,"e":9.9},{"t":5.7,"e":6.95},{"t":5.8,"e":9.7},{"t":5.85,"e":10.5},{"t":5.9,"e":9.9},{"t":6.0,"e":8.1},
      {"t":6.2,"e":8.4},{"t":6.2,"e":6.3},{"t":6.3,"e":10.5},{"t":6.4,"e":10.2},{"t":6.4,"e":9.9},{"t":6.5,"e":7.5},{"t":6.6,"e":10.8},{"t":6.8,"e":9.35},{"t":6.9,"e":9.7},{"t":7.0,"e":10.0},
      {"t":7.2,"e":10.8},{"t":7.3,"e":8.7},{"t":7.4,"e":11.1},{"t":7.5,"e":7.5},{"t":7.6,"e":10.2},{"t":7.7,"e":9.35},{"t":7.8,"e":11.1},{"t":7.85,"e":7.5},{"t":8.0,"e":9.9},{"t":8.1,"e":11.4},
      {"t":8.2,"e":12.0},{"t":8.4,"e":9.7},{"t":8.5,"e":7.85},{"t":8.55,"e":10.2},{"t":8.6,"e":9.35},{"t":8.6,"e":12.6},{"t":8.75,"e":6.6},{"t":8.9,"e":10.8},{"t":8.9,"e":12.0},{"t":9.0,"e":6.6},
      {"t":9.1,"e":12.3},{"t":9.2,"e":11.7},{"t":9.5,"e":11.1},{"t":9.7,"e":9.0},{"t":9.8,"e":9.35},{"t":9.8,"e":7.85},{"t":9.9,"e":12.3},{"t":10.0,"e":12.95},{"t":10.1,"e":11.45},{"t":10.2,"e":13.25},
      {"t":10.3,"e":12.0},{"t":10.3,"e":10.8},{"t":10.5,"e":11.1},{"t":10.7,"e":6.6},{"t":10.8,"e":11.45},{"t":10.9,"e":11.7},{"t":11.0,"e":10.8},{"t":11.1,"e":15.0},{"t":11.1,"e":13.5},{"t":11.1,"e":10.5},
      {"t":11.25,"e":9.65},{"t":11.25,"e":12.0},{"t":11.3,"e":9.0},{"t":11.4,"e":11.4},{"t":11.5,"e":11.1},{"t":11.6,"e":9.0},{"t":11.7,"e":11.7},{"t":11.8,"e":14.1},{"t":11.8,"e":10.5},{"t":11.9,"e":13.8},
      {"t":12.0,"e":13.25},{"t":12.1,"e":10.5},{"t":12.2,"e":12.3},{"t":12.3,"e":9.35},{"t":12.3,"e":9.9},{"t":12.3,"e":8.7},{"t":12.4,"e":15.0},{"t":12.5,"e":13.5},{"t":12.5,"e":10.8},{"t":12.6,"e":11.7},
      {"t":12.7,"e":14.75},{"t":12.9,"e":13.8},{"t":13.0,"e":15.0},{"t":13.1,"e":12.95},{"t":13.2,"e":12.3},{"t":13.4,"e":12.95},{"t":13.5,"e":12.3},{"t":13.6,"e":15.0},{"t":13.6,"e":14.75},{"t":13.8,"e":12.6},
      {"t":13.9,"e":13.5},{"t":14.0,"e":11.7},{"t":14.0,"e":10.85},{"t":14.0,"e":14.1},{"t":14.1,"e":14.75},{"t":14.3,"e":12.0},{"t":14.3,"e":9.9},{"t":14.4,"e":11.1},{"t":14.5,"e":15.6},{"t":14.5,"e":13.25},
      {"t":14.6,"e":16.2},{"t":14.7,"e":13.5},{"t":14.8,"e":11.4},{"t":14.9,"e":12.0},{"t":15.0,"e":13.5},{"t":15.2,"e":12.3},{"t":15.3,"e":14.75},{"t":15.4,"e":13.8},{"t":15.5,"e":9.9},{"t":15.6,"e":15.0},
      {"t":15.7,"e":15.6},{"t":15.8,"e":16.8},{"t":15.9,"e":15.3},{"t":16.1,"e":15.0},{"t":16.2,"e":10.5},{"t":16.2,"e":13.5},{"t":16.3,"e":13.8},{"t":16.35,"e":15.3},{"t":16.35,"e":12.9},{"t":16.6,"e":12.9},
      {"t":17.2,"e":16.2},{"t":17.3,"e":15.6},{"t":17.6,"e":12.9},{"t":18.0,"e":14.75},{"t":18.1,"e":15.95},{"t":18.4,"e":16.2},{"t":18.7,"e":15.0},{"t":19.0,"e":15.0},{"t":19.7,"e":17.75},{"t":20.0,"e":16.8},
      {"t":21.5,"e":17.75},{"t":21.7,"e":15.6},{"t":21.9,"e":14.75},{"t":22.05,"e":15.0},{"t":23.0,"e":21.3}
    ],
    "e14": [
      {"t":-15.4,"e":3.0},{"t":-13.1,"e":3.6},{"t":-13.1,"e":3.3},{"t":-12.6,"e":3.6},{"t":-12.6,"e":3.0},{"t":-10.9,"e":3.3},{"t":-10.4,"e":4.2},{"t":-10.0,"e":3.6},{"t":-6.6,"e":4.2},{"t":-6.5,"e":3.9},
      {"t":-6.5,"e":4.5},{"t":-6.2,"e":4.85},{"t":-6.0,"e":4.85},{"t":-5.4,"e":5.45},{"t":-5.1,"e":4.85},{"t":-5.0,"e":5.15},{"t":-4.8,"e":5.45},{"t":-4.6,"e":5.15},{"t":-4.45,"e":5.75},{"t":-4.4,"e":5.45},
      {"t":-3.9,"e":5.75},{"t":-3.8,"e":4.85},{"t":-3.6,"e":5.75},{"t":-3.4,"e":5.45},{"t":-3.3,"e":5.75},{"t":-3.0,"e":6.0},{"t":-2.7,"e":6.0},{"t":-2.6,"e":5.75},{"t":-2.5,"e":7.2},{"t":-2.45,"e":6.3},
      {"t":-2.3,"e":6.0},{"t":-2.1,"e":6.0},{"t":-1.8,"e":6.6},{"t":-1.7,"e":6.0},{"t":-1.55,"e":6.3},{"t":-1.4,"e":6.6},{"t":-1.2,"e":6.3},{"t":-1.1,"e":6.0},{"t":-0.9,"e":6.6},{"t":-0.8,"e":6.3},
      {"t":-0.6,"e":6.3},{"t":-0.5,"e":6.9},{"t":-0.3,"e":6.6},{"t":-0.2,"e":6.3},{"t":-0.1,"e":5.4},{"t":0.1,"e":6.3},{"t":0.4,"e":7.2},{"t":0.5,"e":5.75},{"t":0.55,"e":6.95},{"t":0.75,"e":6.6},
      {"t":0.95,"e":6.6},{"t":1.0,"e":6.0},{"t":1.1,"e":5.1},{"t":1.3,"e":6.6},{"t":1.4,"e":5.1},{"t":1.4,"e":5.7},{"t":1.5,"e":6.6},{"t":1.7,"e":6.6},{"t":1.9,"e":6.95},{"t":2.0,"e":6.6},
      {"t":2.2,"e":6.95},{"t":2.3,"e":8.1},{"t":2.3,"e":5.7},{"t":2.4,"e":7.8},{"t":2.5,"e":6.6},{"t":2.6,"e":7.5},{"t":2.7,"e":7.8},{"t":2.8,"e":9.3},{"t":2.9,"e":7.8},{"t":3.1,"e":8.1},
      {"t":3.2,"e":6.9},{"t":3.35,"e":6.9},{"t":3.6,"e":5.1},{"t":3.65,"e":7.2},{"t":3.7,"e":6.3},{"t":3.85,"e":8.7},{"t":3.95,"e":8.4},{"t":4.1,"e":6.0},{"t":4.2,"e":8.7},{"t":4.35,"e":8.4},
      {"t":4.5,"e":9.3},{"t":4.6,"e":7.5},{"t":4.6,"e":6.0},{"t":4.8,"e":8.1},{"t":4.9,"e":5.7},{"t":4.9,"e":8.7},{"t":5.0,"e":7.2},{"t":5.1,"e":7.8},{"t":5.2,"e":6.9},{"t":5.3,"e":9.65},
      {"t":5.4,"e":5.1},{"t":5.5,"e":9.05},{"t":5.6,"e":7.5},{"t":5.65,"e":6.9},{"t":5.8,"e":9.3},{"t":5.9,"e":8.1},{"t":6.0,"e":6.6},{"t":6.05,"e":8.45},{"t":6.2,"e":10.5},{"t":6.3,"e":7.8},
      {"t":6.35,"e":9.05},{"t":6.4,"e":8.7},{"t":6.65,"e":8.45},{"t":6.8,"e":9.85},{"t":6.9,"e":9.65},{"t":7.1,"e":10.2},{"t":7.2,"e":7.5},{"t":7.3,"e":6.0},{"t":7.4,"e":10.5},{"t":7.5,"e":9.3},
      {"t":7.6,"e":8.45},{"t":7.7,"e":9.65},{"t":7.9,"e":9.35},{"t":8.2,"e":10.8},{"t":8.3,"e":8.75},{"t":8.5,"e":11.1},{"t":8.5,"e":12.3},{"t":8.6,"e":12.0},{"t":8.65,"e":8.1},{"t":8.75,"e":7.85},
      {"t":8.85,"e":9.65},{"t":9.0,"e":9.05},{"t":9.05,"e":8.4},{"t":9.25,"e":10.25},{"t":9.35,"e":8.4},{"t":9.5,"e":12.0},{"t":9.6,"e":10.5},{"t":9.75,"e":7.8},{"t":9.8,"e":11.7},{"t":9.9,"e":10.8},
      {"t":10.0,"e":11.1},{"t":10.1,"e":11.4},{"t":10.1,"e":8.45},{"t":10.2,"e":14.15},{"t":10.3,"e":9.9},{"t":10.4,"e":12.9},{"t":10.5,"e":13.5},{"t":10.6,"e":12.3},{"t":10.7,"e":9.3},{"t":10.8,"e":11.1},
      {"t":10.9,"e":13.2},{"t":11.0,"e":10.8},{"t":11.05,"e":13.85},{"t":11.2,"e":7.85},{"t":11.2,"e":9.85},{"t":11.3,"e":12.3},{"t":11.4,"e":10.5},{"t":11.6,"e":11.1},{"t":11.7,"e":8.75},{"t":11.8,"e":12.0},
      {"t":11.95,"e":12.9},{"t":12.05,"e":7.2},{"t":12.1,"e":9.9},{"t":12.2,"e":9.05},{"t":12.3,"e":12.0},{"t":12.4,"e":13.85},{"t":12.5,"e":8.4},{"t":12.6,"e":11.4},{"t":12.7,"e":12.6},{"t":12.8,"e":13.85},
      {"t":12.9,"e":9.05},{"t":13.0,"e":10.8},{"t":13.1,"e":14.4},{"t":13.1,"e":12.0},{"t":13.2,"e":11.4},{"t":13.3,"e":13.5},{"t":13.4,"e":12.3},{"t":13.5,"e":9.35},{"t":13.6,"e":12.9},{"t":13.7,"e":9.9},
      {"t":13.75,"e":14.7},{"t":13.9,"e":9.05},{"t":14.0,"e":11.4},{"t":14.1,"e":11.1},{"t":14.15,"e":12.0},{"t":14.3,"e":11.7},{"t":14.4,"e":14.7},{"t":14.45,"e":14.15},{"t":14.5,"e":9.35},{"t":14.6,"e":14.7},
      {"t":14.8,"e":11.4},{"t":14.85,"e":10.5},{"t":14.85,"e":8.4},{"t":14.9,"e":15.95},{"t":15.0,"e":8.75},{"t":15.15,"e":15.35},{"t":15.15,"e":13.2},{"t":15.2,"e":10.8},{"t":15.3,"e":12.0},{"t":15.4,"e":14.4},
      {"t":15.6,"e":12.0},{"t":15.7,"e":13.85},{"t":15.8,"e":14.4},{"t":15.9,"e":10.5},{"t":16.0,"e":8.4},{"t":16.1,"e":12.9},{"t":16.2,"e":11.7},{"t":16.3,"e":9.35},{"t":16.45,"e":15.35},{"t":16.6,"e":16.25},
      {"t":16.7,"e":12.0},{"t":16.75,"e":13.5},{"t":16.85,"e":9.9},{"t":16.95,"e":9.3},{"t":17.1,"e":12.95},{"t":17.15,"e":15.35},{"t":17.2,"e":10.8},{"t":17.3,"e":8.1},{"t":17.5,"e":16.5},{"t":17.5,"e":14.15},
      {"t":17.6,"e":12.0},{"t":17.7,"e":17.7},{"t":18.1,"e":12.0},{"t":18.3,"e":11.1},{"t":18.4,"e":14.7},{"t":18.5,"e":13.25},{"t":18.6,"e":17.7},{"t":18.7,"e":9.3},{"t":18.8,"e":13.85},{"t":18.9,"e":15.95},
      {"t":19.0,"e":16.8},{"t":19.2,"e":11.1},{"t":19.4,"e":13.85},{"t":19.5,"e":15.6},{"t":19.55,"e":15.0},{"t":19.7,"e":14.7},{"t":19.8,"e":16.8},{"t":19.85,"e":17.1},{"t":19.9,"e":14.4},{"t":20.05,"e":13.5},
      {"t":20.7,"e":13.5},{"t":20.8,"e":14.4},{"t":20.9,"e":12.0},{"t":21.1,"e":15.35},{"t":21.2,"e":17.4},{"t":21.4,"e":14.7},{"t":21.5,"e":15.95},{"t":22.2,"e":18.6},{"t":22.3,"e":16.25},{"t":22.5,"e":15.6},
      {"t":22.9,"e":15.0},{"t":23.5,"e":17.1},{"t":23.3,"e":19.5},{"t":23.6,"e":20.45},{"t":24.9,"e":16.5},{"t":25.2,"e":16.25},{"t":25.35,"e":19.5},{"t":25.85,"e":19.5},{"t":25.7,"e":18.6}
    ]
  },
  "spacing": 38.2,
  "vconcat": [
    {
      "width": 1316.6,
      "height": 532,
      "layer": [
        {
          "data": {"name": "ts"},
          "transform": [{"fold": ["k", "b", "r"], "as": ["s", "e"]}],
          "mark": {"type": "point", "shape": "circle", "filled": false, "size": 42, "strokeWidth": 1.4, "opacity": 1},
          "encoding": {
            "x": {"field": "d", "type": "quantitative", "scale": {"domain": [3.2, 369], "nice": false, "zero": false}, "axis": {"values": [30, 60, 90, 120, 150, 180, 210, 240, 270, 300, 330, 360], "title": "Tag des Jahres"}},
            "y": {"field": "e", "type": "quantitative", "scale": {"domain": [0, 24], "nice": false, "zero": false}, "axis": {"values": [0, 4, 8, 12, 16, 20, 24], "title": "Dampfdruck hPa"}},
            "color": {
              "field": "s", "type": "nominal", "sort": null,
              "scale": {"domain": ["k", "b", "r"], "range": ["#000000", "#0000ff", "#ff0000"]},
              "legend": {
                "title": "Jahresgang alle Termine", "orient": "top-left", "offset": 50, "padding": 0,
                "titleFont": "Liberation Serif", "titleFontSize": 28, "titleFontWeight": "normal", "titleColor": "#000000", "titlePadding": 6, "titleLimit": 0,
                "labelFont": "Liberation Sans", "labelFontSize": 25.5, "labelColor": "#000000", "labelOffset": 4, "labelLimit": 0,
                "symbolType": "M-1,0H1M0,-1V1", "symbolSize": 196, "symbolStrokeWidth": 2, "rowPadding": 5,
                "labelExpr": "datum.value == 'k' ? 'Dampfdruck 07:00 Uhr 1862' : datum.value == 'b' ? 'Dampfdruck 14:00 Uhr' : 'Dampfdruck 21:00 Uhr'"
              }
            }
          }
        },
        {
          "data": {"values": [{"v": 30}, {"v": 60}, {"v": 90}, {"v": 120}, {"v": 150}, {"v": 180}, {"v": 210}, {"v": 240}, {"v": 270}, {"v": 300}, {"v": 330}, {"v": 360}]},
          "mark": {"type": "rule", "color": "#444444", "strokeWidth": 1.5},
          "encoding": {
            "x": {"field": "v", "type": "quantitative", "scale": {"domain": [3.2, 369], "nice": false, "zero": false}, "axis": {"values": [30, 60, 90, 120, 150, 180, 210, 240, 270, 300, 330, 360], "title": "Tag des Jahres"}},
            "y": {"datum": 0, "type": "quantitative", "scale": {"domain": [0, 24], "nice": false, "zero": false}, "axis": {"values": [0, 4, 8, 12, 16, 20, 24], "title": "Dampfdruck hPa"}},
            "y2": {"datum": 0.9}
          }
        },
        {
          "data": {"values": [{"v": 15}, {"v": 45}, {"v": 75}, {"v": 105}, {"v": 135}, {"v": 165}, {"v": 195}, {"v": 225}, {"v": 255}, {"v": 285}, {"v": 315}, {"v": 345}]},
          "mark": {"type": "rule", "color": "#444444", "strokeWidth": 1.5},
          "encoding": {
            "x": {"field": "v", "type": "quantitative", "scale": {"domain": [3.2, 369], "nice": false, "zero": false}, "axis": {"values": [30, 60, 90, 120, 150, 180, 210, 240, 270, 300, 330, 360], "title": "Tag des Jahres"}},
            "y": {"datum": 0, "type": "quantitative", "scale": {"domain": [0, 24], "nice": false, "zero": false}, "axis": {"values": [0, 4, 8, 12, 16, 20, 24], "title": "Dampfdruck hPa"}},
            "y2": {"datum": 0.53}
          }
        },
        {
          "data": {"values": [{"v": 4}, {"v": 8}, {"v": 12}, {"v": 16}, {"v": 20}]},
          "mark": {"type": "rule", "color": "#444444", "strokeWidth": 1.5},
          "encoding": {
            "y": {"field": "v", "type": "quantitative", "scale": {"domain": [0, 24], "nice": false, "zero": false}, "axis": {"values": [0, 4, 8, 12, 16, 20, 24], "title": "Dampfdruck hPa"}},
            "x": {"datum": 3.2, "type": "quantitative", "scale": {"domain": [3.2, 369], "nice": false, "zero": false}, "axis": {"values": [30, 60, 90, 120, 150, 180, 210, 240, 270, 300, 330, 360], "title": "Tag des Jahres"}},
            "x2": {"datum": 8.75}
          }
        },
        {
          "data": {"values": [{"v": 2}, {"v": 6}, {"v": 10}, {"v": 14}, {"v": 18}, {"v": 22}]},
          "mark": {"type": "rule", "color": "#444444", "strokeWidth": 1.5},
          "encoding": {
            "y": {"field": "v", "type": "quantitative", "scale": {"domain": [0, 24], "nice": false, "zero": false}, "axis": {"values": [0, 4, 8, 12, 16, 20, 24], "title": "Dampfdruck hPa"}},
            "x": {"datum": 3.2, "type": "quantitative", "scale": {"domain": [3.2, 369], "nice": false, "zero": false}, "axis": {"values": [30, 60, 90, 120, 150, 180, 210, 240, 270, 300, 330, 360], "title": "Tag des Jahres"}},
            "x2": {"datum": 6.8}
          }
        }
      ]
    },
    {
      "spacing": 45.5,
      "vconcat": [
        {
          "spacing": 140.5,
          "bounds": "flush",
          "hconcat": [
            {
              "width": 628,
              "height": 628,
              "layer": [
                {"data": {"name": "lam"}, "mark": {"type": "line", "color": "#333333", "strokeWidth": 1.1},
                 "encoding": {"x": {"field": "t", "type": "quantitative", "scale": {"domain": [-20, 30], "nice": false, "zero": false}, "axis": {"values": [-20, -10, 0, 10, 20, 30], "labelExpr": "'' + datum.value", "title": "Temperatur °C"}},
                              "y": {"field": "e", "type": "quantitative", "scale": {"domain": [0, 25], "nice": false, "zero": false}, "axis": {"values": [0, 5, 10, 15, 20, 25], "title": "Dampfdrucl hPa"}}}},
                {"data": {"name": "e21"}, "mark": {"type": "point", "shape": "circle", "filled": false, "size": 56, "strokeWidth": 1.4, "color": "#000000", "opacity": 1},
                 "encoding": {"x": {"field": "t", "type": "quantitative", "scale": {"domain": [-20, 30], "nice": false, "zero": false}, "axis": {"values": [-20, -10, 0, 10, 20, 30], "labelExpr": "'' + datum.value", "title": "Temperatur °C"}},
                              "y": {"field": "e", "type": "quantitative", "scale": {"domain": [0, 25], "nice": false, "zero": false}, "axis": {"values": [0, 5, 10, 15, 20, 25], "title": "Dampfdrucl hPa"}}}},
                {"data": {"values": [{"v": -10}, {"v": 0}, {"v": 10}, {"v": 20}]}, "mark": {"type": "rule", "color": "#444444", "strokeWidth": 1.5},
                 "encoding": {"x": {"field": "v", "type": "quantitative", "scale": {"domain": [-20, 30], "nice": false, "zero": false}, "axis": {"values": [-20, -10, 0, 10, 20, 30], "labelExpr": "'' + datum.value", "title": "Temperatur °C"}},
                              "y": {"datum": 0, "type": "quantitative", "scale": {"domain": [0, 25], "nice": false, "zero": false}, "axis": {"values": [0, 5, 10, 15, 20, 25], "title": "Dampfdrucl hPa"}}, "y2": {"datum": 0.8}}},
                {"data": {"values": [{"v": -15}, {"v": -5}, {"v": 5}, {"v": 15}, {"v": 25}]}, "mark": {"type": "rule", "color": "#444444", "strokeWidth": 1.5},
                 "encoding": {"x": {"field": "v", "type": "quantitative", "scale": {"domain": [-20, 30], "nice": false, "zero": false}, "axis": {"values": [-20, -10, 0, 10, 20, 30], "labelExpr": "'' + datum.value", "title": "Temperatur °C"}},
                              "y": {"datum": 0, "type": "quantitative", "scale": {"domain": [0, 25], "nice": false, "zero": false}, "axis": {"values": [0, 5, 10, 15, 20, 25], "title": "Dampfdrucl hPa"}}, "y2": {"datum": 0.48}}},
                {"data": {"values": [{"v": 0}, {"v": 5}, {"v": 10}, {"v": 15}, {"v": 20}]}, "mark": {"type": "rule", "color": "#444444", "strokeWidth": 1.5},
                 "encoding": {"y": {"field": "v", "type": "quantitative", "scale": {"domain": [0, 25], "nice": false, "zero": false}, "axis": {"values": [0, 5, 10, 15, 20, 25], "title": "Dampfdrucl hPa"}},
                              "x": {"datum": -20, "type": "quantitative", "scale": {"domain": [-20, 30], "nice": false, "zero": false}, "axis": {"values": [-20, -10, 0, 10, 20, 30], "labelExpr": "'' + datum.value", "title": "Temperatur °C"}}, "x2": {"datum": -18.6}}},
                {"data": {"values": [{"v": 2.5}, {"v": 7.5}, {"v": 12.5}, {"v": 17.5}, {"v": 22.5}]}, "mark": {"type": "rule", "color": "#444444", "strokeWidth": 1.5},
                 "encoding": {"y": {"field": "v", "type": "quantitative", "scale": {"domain": [0, 25], "nice": false, "zero": false}, "axis": {"values": [0, 5, 10, 15, 20, 25], "title": "Dampfdrucl hPa"}},
                              "x": {"datum": -20, "type": "quantitative", "scale": {"domain": [-20, 30], "nice": false, "zero": false}, "axis": {"values": [-20, -10, 0, 10, 20, 30], "labelExpr": "'' + datum.value", "title": "Temperatur °C"}}, "x2": {"datum": -19.04}}},
                {"data": {"values": [{}]}, "mark": {"type": "text", "align": "left", "baseline": "alphabetic", "font": "Liberation Serif", "fontSize": 32, "lineHeight": 40, "color": "#000000"},
                 "encoding": {"x": {"datum": -15.25, "type": "quantitative", "scale": {"domain": [-20, 30], "nice": false, "zero": false}, "axis": {"values": [-20, -10, 0, 10, 20, 30], "labelExpr": "'' + datum.value", "title": "Temperatur °C"}},
                              "y": {"datum": 22.5, "type": "quantitative", "scale": {"domain": [0, 25], "nice": false, "zero": false}, "axis": {"values": [0, 5, 10, 15, 20, 25], "title": "Dampfdrucl hPa"}}, "text": {"value": ["e vs T 1862", "21:00 Uhr"]}}},
                {"data": {"values": [{}]}, "mark": {"type": "text", "align": "left", "baseline": "alphabetic", "font": "Liberation Serif", "fontSize": 27, "lineHeight": 28, "color": "#000000"},
                 "encoding": {"x": {"datum": 6.23, "type": "quantitative", "scale": {"domain": [-20, 30], "nice": false, "zero": false}, "axis": {"values": [-20, -10, 0, 10, 20, 30], "labelExpr": "'' + datum.value", "title": "Temperatur °C"}},
                              "y": {"datum": 22.8, "type": "quantitative", "scale": {"domain": [0, 25], "nice": false, "zero": false}, "axis": {"values": [0, 5, 10, 15, 20, 25], "title": "Dampfdrucl hPa"}}, "text": {"value": ["Sättigungsdampfdruck", "nach Lamont"]}}}
              ]
            },
            {
              "width": 479,
              "height": 542,
              "view": {"stroke": null},
              "data": {"values": [{"label": "1862"}]},
              "mark": {"type": "text", "align": "center", "baseline": "middle", "font": "Liberation Serif", "fontSize": 82, "fontWeight": "bold", "color": "#999999"},
              "encoding": {"text": {"field": "label", "type": "nominal"}}
            }
          ]
        },
        {
          "spacing": 140.5,
          "bounds": "flush",
          "hconcat": [
            {
              "width": 628,
              "height": 628,
              "layer": [
                {"data": {"name": "lam"}, "mark": {"type": "line", "color": "#333333", "strokeWidth": 1.1},
                 "encoding": {"x": {"field": "t", "type": "quantitative", "scale": {"domain": [-20, 30], "nice": false, "zero": false}, "axis": {"values": [-20, -10, 0, 10, 20, 30], "labelExpr": "'' + datum.value", "title": "Temperatur °C"}},
                              "y": {"field": "e", "type": "quantitative", "scale": {"domain": [0, 25], "nice": false, "zero": false}, "axis": {"values": [0, 5, 10, 15, 20, 25], "title": "Dampfdruck hPa"}}}},
                {"data": {"name": "e07"}, "mark": {"type": "point", "shape": "circle", "filled": false, "size": 56, "strokeWidth": 1.4, "color": "#000000", "opacity": 1},
                 "encoding": {"x": {"field": "t", "type": "quantitative", "scale": {"domain": [-20, 30], "nice": false, "zero": false}, "axis": {"values": [-20, -10, 0, 10, 20, 30], "labelExpr": "'' + datum.value", "title": "Temperatur °C"}},
                              "y": {"field": "e", "type": "quantitative", "scale": {"domain": [0, 25], "nice": false, "zero": false}, "axis": {"values": [0, 5, 10, 15, 20, 25], "title": "Dampfdruck hPa"}}}},
                {"data": {"values": [{"v": -10}, {"v": 0}, {"v": 10}, {"v": 20}]}, "mark": {"type": "rule", "color": "#444444", "strokeWidth": 1.5},
                 "encoding": {"x": {"field": "v", "type": "quantitative", "scale": {"domain": [-20, 30], "nice": false, "zero": false}, "axis": {"values": [-20, -10, 0, 10, 20, 30], "labelExpr": "'' + datum.value", "title": "Temperatur °C"}},
                              "y": {"datum": 0, "type": "quantitative", "scale": {"domain": [0, 25], "nice": false, "zero": false}, "axis": {"values": [0, 5, 10, 15, 20, 25], "title": "Dampfdruck hPa"}}, "y2": {"datum": 0.8}}},
                {"data": {"values": [{"v": -15}, {"v": -5}, {"v": 5}, {"v": 15}, {"v": 25}]}, "mark": {"type": "rule", "color": "#444444", "strokeWidth": 1.5},
                 "encoding": {"x": {"field": "v", "type": "quantitative", "scale": {"domain": [-20, 30], "nice": false, "zero": false}, "axis": {"values": [-20, -10, 0, 10, 20, 30], "labelExpr": "'' + datum.value", "title": "Temperatur °C"}},
                              "y": {"datum": 0, "type": "quantitative", "scale": {"domain": [0, 25], "nice": false, "zero": false}, "axis": {"values": [0, 5, 10, 15, 20, 25], "title": "Dampfdruck hPa"}}, "y2": {"datum": 0.48}}},
                {"data": {"values": [{"v": 0}, {"v": 5}, {"v": 10}, {"v": 15}, {"v": 20}]}, "mark": {"type": "rule", "color": "#444444", "strokeWidth": 1.5},
                 "encoding": {"y": {"field": "v", "type": "quantitative", "scale": {"domain": [0, 25], "nice": false, "zero": false}, "axis": {"values": [0, 5, 10, 15, 20, 25], "title": "Dampfdruck hPa"}},
                              "x": {"datum": -20, "type": "quantitative", "scale": {"domain": [-20, 30], "nice": false, "zero": false}, "axis": {"values": [-20, -10, 0, 10, 20, 30], "labelExpr": "'' + datum.value", "title": "Temperatur °C"}}, "x2": {"datum": -18.6}}},
                {"data": {"values": [{"v": 2.5}, {"v": 7.5}, {"v": 12.5}, {"v": 17.5}, {"v": 22.5}]}, "mark": {"type": "rule", "color": "#444444", "strokeWidth": 1.5},
                 "encoding": {"y": {"field": "v", "type": "quantitative", "scale": {"domain": [0, 25], "nice": false, "zero": false}, "axis": {"values": [0, 5, 10, 15, 20, 25], "title": "Dampfdruck hPa"}},
                              "x": {"datum": -20, "type": "quantitative", "scale": {"domain": [-20, 30], "nice": false, "zero": false}, "axis": {"values": [-20, -10, 0, 10, 20, 30], "labelExpr": "'' + datum.value", "title": "Temperatur °C"}}, "x2": {"datum": -19.04}}},
                {"data": {"values": [{}]}, "mark": {"type": "text", "align": "left", "baseline": "alphabetic", "font": "Liberation Serif", "fontSize": 32, "lineHeight": 39, "color": "#000000"},
                 "encoding": {"x": {"datum": -13.6, "type": "quantitative", "scale": {"domain": [-20, 30], "nice": false, "zero": false}, "axis": {"values": [-20, -10, 0, 10, 20, 30], "labelExpr": "'' + datum.value", "title": "Temperatur °C"}},
                              "y": {"datum": 22.9, "type": "quantitative", "scale": {"domain": [0, 25], "nice": false, "zero": false}, "axis": {"values": [0, 5, 10, 15, 20, 25], "title": "Dampfdruck hPa"}}, "text": {"value": ["e vs T 1862", "07:00 Uhr"]}}},
                {"data": {"values": [{}]}, "mark": {"type": "text", "align": "left", "baseline": "alphabetic", "font": "Liberation Serif", "fontSize": 27, "lineHeight": 29, "color": "#000000"},
                 "encoding": {"x": {"datum": 4.2, "type": "quantitative", "scale": {"domain": [-20, 30], "nice": false, "zero": false}, "axis": {"values": [-20, -10, 0, 10, 20, 30], "labelExpr": "'' + datum.value", "title": "Temperatur °C"}},
                              "y": {"datum": 23.45, "type": "quantitative", "scale": {"domain": [0, 25], "nice": false, "zero": false}, "axis": {"values": [0, 5, 10, 15, 20, 25], "title": "Dampfdruck hPa"}}, "text": {"value": ["Sättigungsdampfdruck", "nach Lamont"]}}}
              ]
            },
            {
              "width": 628,
              "height": 628,
              "layer": [
                {"data": {"name": "lam"}, "mark": {"type": "line", "color": "#333333", "strokeWidth": 1.1},
                 "encoding": {"x": {"field": "t", "type": "quantitative", "scale": {"domain": [-20, 30], "nice": false, "zero": false}, "axis": {"values": [-20, -10, 0, 10, 20, 30], "labelExpr": "'' + datum.value", "title": "Temperatur °C"}},
                              "y": {"field": "e", "type": "quantitative", "scale": {"domain": [0, 25], "nice": false, "zero": false}, "axis": {"values": [0, 5, 10, 15, 20, 25], "title": "Dampfdruck hPa"}}}},
                {"data": {"name": "e14"}, "mark": {"type": "point", "shape": "circle", "filled": false, "size": 56, "strokeWidth": 1.4, "color": "#000000", "opacity": 1},
                 "encoding": {"x": {"field": "t", "type": "quantitative", "scale": {"domain": [-20, 30], "nice": false, "zero": false}, "axis": {"values": [-20, -10, 0, 10, 20, 30], "labelExpr": "'' + datum.value", "title": "Temperatur °C"}},
                              "y": {"field": "e", "type": "quantitative", "scale": {"domain": [0, 25], "nice": false, "zero": false}, "axis": {"values": [0, 5, 10, 15, 20, 25], "title": "Dampfdruck hPa"}}}},
                {"data": {"values": [{"v": -10}, {"v": 0}, {"v": 10}, {"v": 20}]}, "mark": {"type": "rule", "color": "#444444", "strokeWidth": 1.5},
                 "encoding": {"x": {"field": "v", "type": "quantitative", "scale": {"domain": [-20, 30], "nice": false, "zero": false}, "axis": {"values": [-20, -10, 0, 10, 20, 30], "labelExpr": "'' + datum.value", "title": "Temperatur °C"}},
                              "y": {"datum": 0, "type": "quantitative", "scale": {"domain": [0, 25], "nice": false, "zero": false}, "axis": {"values": [0, 5, 10, 15, 20, 25], "title": "Dampfdruck hPa"}}, "y2": {"datum": 0.8}}},
                {"data": {"values": [{"v": -15}, {"v": -5}, {"v": 5}, {"v": 15}, {"v": 25}]}, "mark": {"type": "rule", "color": "#444444", "strokeWidth": 1.5},
                 "encoding": {"x": {"field": "v", "type": "quantitative", "scale": {"domain": [-20, 30], "nice": false, "zero": false}, "axis": {"values": [-20, -10, 0, 10, 20, 30], "labelExpr": "'' + datum.value", "title": "Temperatur °C"}},
                              "y": {"datum": 0, "type": "quantitative", "scale": {"domain": [0, 25], "nice": false, "zero": false}, "axis": {"values": [0, 5, 10, 15, 20, 25], "title": "Dampfdruck hPa"}}, "y2": {"datum": 0.48}}},
                {"data": {"values": [{"v": 0}, {"v": 5}, {"v": 10}, {"v": 15}, {"v": 20}]}, "mark": {"type": "rule", "color": "#444444", "strokeWidth": 1.5},
                 "encoding": {"y": {"field": "v", "type": "quantitative", "scale": {"domain": [0, 25], "nice": false, "zero": false}, "axis": {"values": [0, 5, 10, 15, 20, 25], "title": "Dampfdruck hPa"}},
                              "x": {"datum": -20, "type": "quantitative", "scale": {"domain": [-20, 30], "nice": false, "zero": false}, "axis": {"values": [-20, -10, 0, 10, 20, 30], "labelExpr": "'' + datum.value", "title": "Temperatur °C"}}, "x2": {"datum": -18.6}}},
                {"data": {"values": [{"v": 2.5}, {"v": 7.5}, {"v": 12.5}, {"v": 17.5}, {"v": 22.5}]}, "mark": {"type": "rule", "color": "#444444", "strokeWidth": 1.5},
                 "encoding": {"y": {"field": "v", "type": "quantitative", "scale": {"domain": [0, 25], "nice": false, "zero": false}, "axis": {"values": [0, 5, 10, 15, 20, 25], "title": "Dampfdruck hPa"}},
                              "x": {"datum": -20, "type": "quantitative", "scale": {"domain": [-20, 30], "nice": false, "zero": false}, "axis": {"values": [-20, -10, 0, 10, 20, 30], "labelExpr": "'' + datum.value", "title": "Temperatur °C"}}, "x2": {"datum": -19.04}}},
                {"data": {"values": [{}]}, "mark": {"type": "text", "align": "left", "baseline": "alphabetic", "font": "Liberation Serif", "fontSize": 32, "lineHeight": 38, "color": "#000000"},
                 "encoding": {"x": {"datum": -16.5, "type": "quantitative", "scale": {"domain": [-20, 30], "nice": false, "zero": false}, "axis": {"values": [-20, -10, 0, 10, 20, 30], "labelExpr": "'' + datum.value", "title": "Temperatur °C"}},
                              "y": {"datum": 22.5, "type": "quantitative", "scale": {"domain": [0, 25], "nice": false, "zero": false}, "axis": {"values": [0, 5, 10, 15, 20, 25], "title": "Dampfdruck hPa"}}, "text": {"value": ["e vs T 1862", "14:00 Uhr"]}}},
                {"data": {"values": [{}]}, "mark": {"type": "text", "align": "left", "baseline": "alphabetic", "font": "Liberation Serif", "fontSize": 27, "lineHeight": 30, "color": "#000000"},
                 "encoding": {"x": {"datum": 5.27, "type": "quantitative", "scale": {"domain": [-20, 30], "nice": false, "zero": false}, "axis": {"values": [-20, -10, 0, 10, 20, 30], "labelExpr": "'' + datum.value", "title": "Temperatur °C"}},
                              "y": {"datum": 23.2, "type": "quantitative", "scale": {"domain": [0, 25], "nice": false, "zero": false}, "axis": {"values": [0, 5, 10, 15, 20, 25], "title": "Dampfdruck hPa"}}, "text": {"value": ["Sättigungsdampfdruck", "nach Lamont"]}}}
              ]
            }
          ]
        }
      ]
    }
  ]
}
